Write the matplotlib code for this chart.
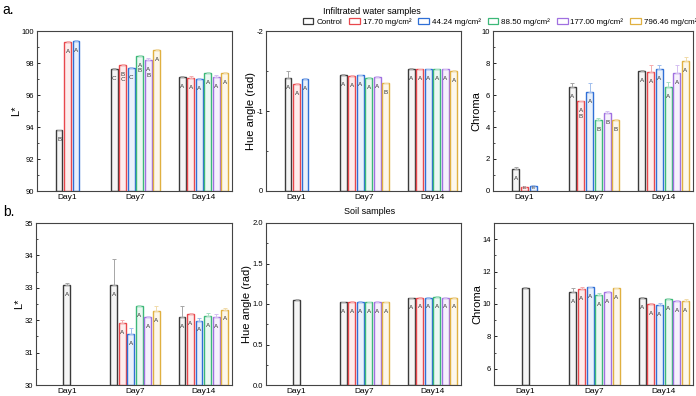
import numpy as np
import matplotlib.pyplot as plt
from matplotlib.ticker import AutoMinorLocator
from matplotlib.patches import Patch

plt.rcParams['font.family'] = ['Liberation Sans', 'DejaVu Sans']

nan = np.nan
days = ['Day1', 'Day7', 'Day14']
series = ['Control', '17.70 mg/cm²', '44.24 mg/cm²', '88.50 mg/cm²', '177.00 mg/cm²', '796.46 mg/cm²']
colors = ['#3a3a3a', '#e8474c', '#2f6fd6', '#3cb878', '#a070e0', '#e0b040']

# rows = series (Control .. 796.46), columns = Day1, Day7, Day14; nan = no bar
water_L = [[93.80, 97.65, 97.15], [99.34, 97.90, 97.09], [99.38, 97.70, 97.00],
           [nan, 98.45, 97.37], [nan, 98.16, 97.15], [nan, 98.80, 97.40]]
water_L_err = [[0.03, 0.05, 0.05], [0.03, 0.05, 0.08], [0.05, 0.08, 0.05],
               [nan, 0.05, 0.05], [nan, 0.15, 0.08], [nan, 0.05, 0.05]]
water_L_let = [['B', 'C', 'A'], ['A', 'B\nC', 'A'], ['A', 'C', 'A'],
               [None, 'A\nB', 'A'], [None, 'A\nB', 'A'], [None, 'A', 'A']]

water_hue = [[-1.417, -1.45, -1.525], [-1.34, -1.44, -1.52], [-1.405, -1.446, -1.52],
             [nan, -1.417, -1.52], [nan, -1.43, -1.52], [nan, -1.346, -1.505]]
water_hue_err = [[0.08, 0.01, 0.01], [0.01, 0.01, 0.01], [0.01, 0.01, 0.01],
                 [nan, 0.01, 0.01], [nan, 0.01, 0.01], [nan, 0.01, 0.01]]
water_hue_let = [['A', 'A', 'A'], ['A', 'A', 'A'], ['A', 'A', 'A'],
                 [None, 'A', 'A'], [None, 'A', 'A'], [None, 'B', 'A']]

water_C = [[1.40, 6.52, 7.50], [0.25, 5.60, 7.45], [0.30, 6.20, 7.65],
           [nan, 4.45, 6.50], [nan, 4.85, 7.35], [nan, 4.45, 8.10]]
water_C_err = [[0.10, 0.20, 0.05], [0.02, 0.05, 0.45], [0.05, 0.55, 0.20],
               [nan, 0.10, 0.30], [nan, 0.15, 0.50], [nan, 0.05, 0.30]]
water_C_let = [['A', 'A', 'A'], ['B', 'A\nB', 'A'], ['B', 'A', 'A'],
               [None, 'B', 'A'], [None, 'B', 'A'], [None, 'B', 'A']]

soil_L = [[33.09, 33.09, 32.10], [nan, 31.90, 32.20], [nan, 31.57, 31.99],
          [nan, 32.44, 32.13], [nan, 32.11, 32.10], [nan, 32.29, 32.33]]
soil_L_err = [[0.05, 0.80, 0.35], [nan, 0.10, 0.03], [nan, 0.20, 0.08],
              [nan, 0.03, 0.10], [nan, 0.03, 0.08], [nan, 0.15, 0.05]]
soil_L_let = [['A', 'A', 'A'], [None, 'A', 'A'], [None, 'A', 'A'],
              [None, 'A', 'A'], [None, 'A', 'A'], [None, 'A', 'A']]

soil_hue = [[1.05, 1.02, 1.07], [nan, 1.03, 1.08], [nan, 1.03, 1.08],
            [nan, 1.02, 1.09], [nan, 1.03, 1.08], [nan, 1.02, 1.08]]
soil_hue_err = [[0.01, 0.01, 0.01], [nan, 0.01, 0.01], [nan, 0.01, 0.01],
                [nan, 0.01, 0.01], [nan, 0.01, 0.01], [nan, 0.01, 0.01]]
soil_hue_let = [[None, 'A', 'A'], [None, 'A', 'A'], [None, 'A', 'A'],
                [None, 'A', 'A'], [None, 'A', 'A'], [None, 'A', 'A']]

soil_C = [[11.00, 10.73, 10.36], [nan, 10.92, 10.01], [nan, 11.02, 9.95],
          [nan, 10.55, 10.30], [nan, 10.75, 10.20], [nan, 10.96, 10.17]]
soil_C_err = [[0.05, 0.25, 0.05], [nan, 0.10, 0.05], [nan, 0.05, 0.10],
              [nan, 0.10, 0.10], [nan, 0.05, 0.05], [nan, 0.05, 0.15]]
soil_C_let = [[None, 'A', 'A'], [None, 'A', 'A'], [None, 'A', 'A'],
              [None, 'A', 'A'], [None, 'A', 'A'], [None, 'A', 'A']]

width = 0.1
step = 0.125


def light(c, a):
    rgb = np.array(plt.matplotlib.colors.to_rgb(c))
    return tuple(rgb * a + (1 - a))


def panel(ax, means, errs, lets, ylim, yticks, ylabel, fmt='%g'):
    lo = ylim[0] if ylim[0] < ylim[1] else 0
    span = abs(ylim[1] - ylim[0])
    for i in range(len(days)):
        present = [s for s in range(len(series)) if not np.isnan(means[s][i])]
        n = len(present)
        for k, s in enumerate(present):
            x = i + (k - (n - 1) / 2) * step
            m = means[s][i]
            fa = 0.05 if s == 0 else 0.1
            ax.bar(x, m - lo, width, bottom=lo,
                   facecolor=light(colors[s], fa), edgecolor=colors[s], lw=1.0, zorder=2)
            e = errs[s][i]
            ax.errorbar(x, m, yerr=[[0], [e]] if m > 0 else [[e], [0]], fmt='none',
                        ecolor=light(colors[s], 0.45), elinewidth=0.7, capsize=1.5,
                        capthick=0.7, zorder=3)
            if lets[s][i]:
                if abs(m - lo) < 0.08 * span:
                    # short bar: letter sits inside, from the bottom
                    ax.annotate(lets[s][i], (x, lo), xytext=(0, 0.5), textcoords='offset points',
                                ha='center', va='bottom', fontsize=3.2, color='#333333', zorder=4)
                else:
                    ax.annotate(lets[s][i], (x, m), xytext=(0, -5), textcoords='offset points',
                                ha='center', va='top', fontsize=4.5, color='#333333',
                                linespacing=1.1, zorder=4)
    ax.set_xlim(-0.45, 2.42)
    ax.set_xticks(range(len(days)))
    ax.set_xticklabels(days)
    ax.set_ylim(*ylim)
    ax.set_yticks(yticks)
    ax.set_yticklabels([fmt % t for t in yticks])
    ax.yaxis.set_minor_locator(AutoMinorLocator(2))
    ax.tick_params(axis='x', length=0, labelsize=6, pad=2)
    ax.tick_params(axis='y', which='major', direction='in', length=2.5, width=0.6, labelsize=5.5, pad=2)
    ax.tick_params(axis='y', which='minor', direction='in', length=1.5, width=0.5)
    ax.set_ylabel(ylabel, fontsize=8, labelpad=0.5)
    for sp in ax.spines.values():
        sp.set_linewidth(0.8)
        sp.set_color('#444444')


fig = plt.figure(figsize=(6.96, 3.96), dpi=100)
W, H = 696, 396


def add_ax(x0, y0, x1, y1):
    return fig.add_axes([x0 / W, 1 - y1 / H, (x1 - x0) / W, (y1 - y0) / H])


ax1 = add_ax(37, 31, 232, 191)
ax2 = add_ax(266, 31, 461, 191)
ax3 = add_ax(493, 31, 693, 191)
ax4 = add_ax(36, 223, 232, 385)
ax5 = add_ax(266, 223, 461, 385)
ax6 = add_ax(494, 223, 693, 385)

panel(ax1, water_L, water_L_err, water_L_let, (90, 100), [90, 92, 94, 96, 98, 100], 'L*')
panel(ax2, water_hue, water_hue_err, water_hue_let, (0, -2), [0, -1, -2], 'Hue angle (rad)')
panel(ax3, water_C, water_C_err, water_C_let, (0, 10), [0, 2, 4, 6, 8, 10], 'Chroma')
panel(ax4, soil_L, soil_L_err, soil_L_let, (30, 35), [30, 31, 32, 33, 34, 35], 'L*')
panel(ax5, soil_hue, soil_hue_err, soil_hue_let, (0, 2), [0, 0.5, 1.0, 1.5, 2.0], 'Hue angle (rad)', '%.1f')
panel(ax6, soil_C, soil_C_err, soil_C_let, (5, 15), [6, 8, 10, 12, 14], 'Chroma')

fig.text(2 / W, 1 - 10 / H, 'a.', fontsize=10, va='center', ha='left')
fig.text(3 / W, 1 - 212 / H, 'b.', fontsize=10, va='center', ha='left')
fig.text(372 / W, 1 - 12 / H, 'Infiltrated water samples', fontsize=6.5, ha='center', va='center')
fig.text(370 / W, 1 - 212 / H, 'Soil samples', fontsize=6.5, ha='center', va='center')

handles = [Patch(facecolor='white', edgecolor=c, lw=0.9) for c in colors]
fig.legend(handles, series, loc='center', bbox_to_anchor=(500 / W, 1 - 22 / H), ncol=6,
           frameon=False, fontsize=5.8, handlelength=1.3, handleheight=0.6,
           handletextpad=0.35, columnspacing=0.9, borderpad=0.1)

fig.savefig('out.png', dpi=100)
